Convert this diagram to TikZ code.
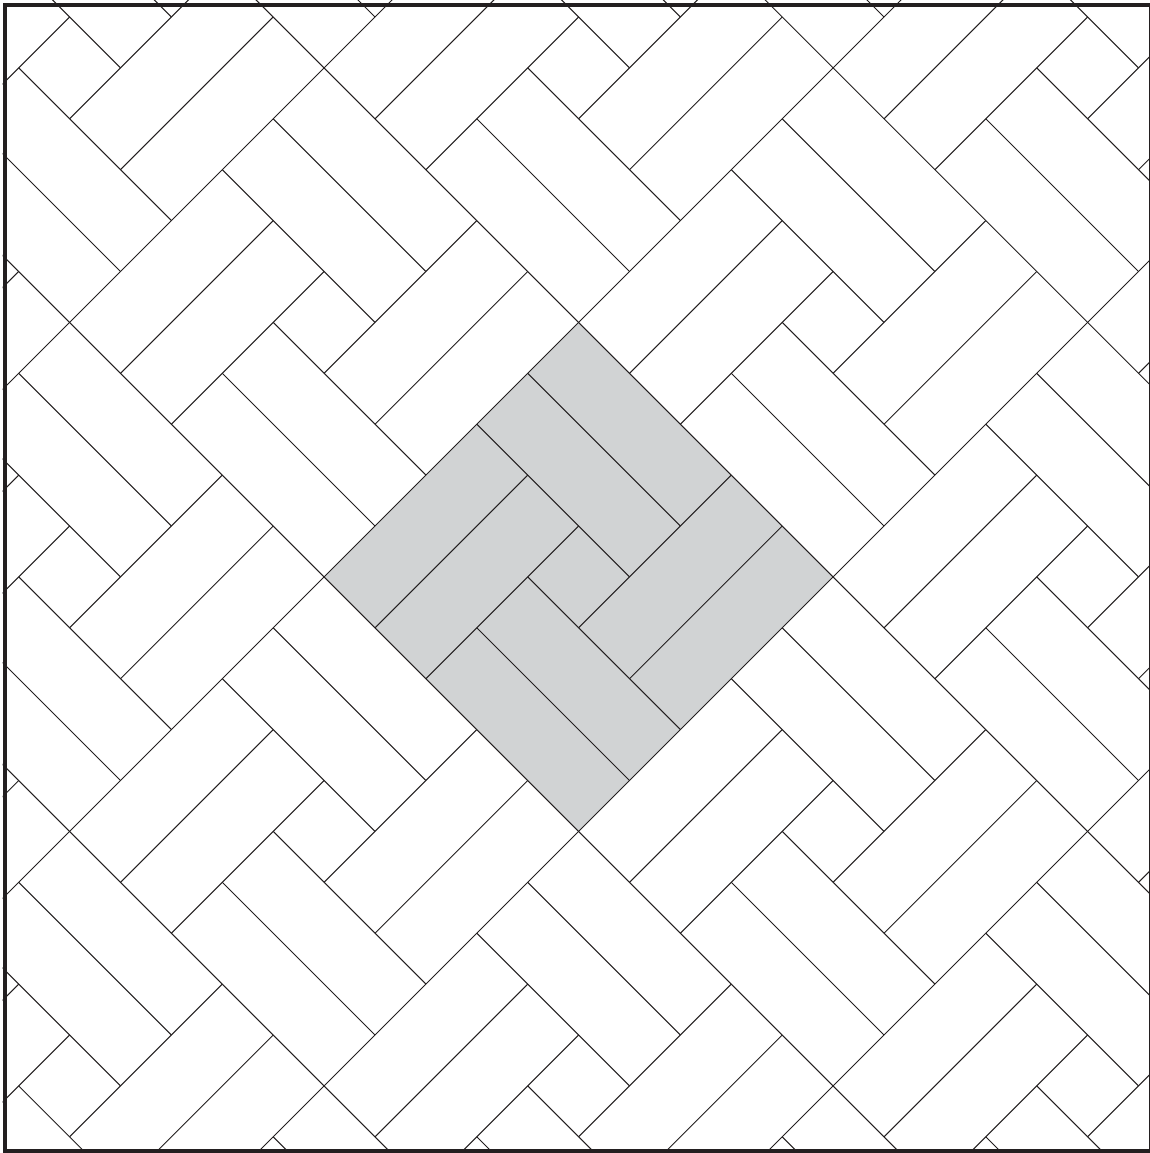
\documentclass[tikz,border=0pt]{standalone}
\definecolor{ink}{HTML}{231F20}
\definecolor{tilegrey}{HTML}{D1D3D4}
\begin{document}
\begin{tikzpicture}[x=1pt,y=-1pt,
  tileline/.style={draw=ink,line width=1pt},
  framestyle/.style={draw=ink,line width=4.2pt}]
\useasboundingbox (0,0) rectangle (1149,1153);
\fill[white] (0,0) rectangle (1149,1153);
\begin{scope}
  \clip (2.6,0) rectangle (1149,1153);
  \begin{scope}[shift={(324.1pt,-576.9pt)}, x={(50.9pt,-50.9pt)}, y={(50.9pt,50.9pt)}]
    % highlighted pinwheel block
    \fill[tilegrey] (0,0) -- (5,0) -- (5,5) -- (0,5) -- cycle;
    % block grid lines
    \foreach \g in {-10,-5,...,15} {
      \draw[tileline] (\g,-10) -- (\g,15);
      \draw[tileline] (-10,\g) -- (15,\g);
    }
    % pinwheel interior of every block
    \foreach \i in {-10,-5,...,10} {
      \foreach \j in {-10,-5,...,10} {
        \draw[tileline] (\i+1,\j) -- (\i+1,\j+3);
        \draw[tileline] (\i+2,\j) -- (\i+2,\j+3);
        \draw[tileline] (\i+3,\j+2) -- (\i+3,\j+5);
        \draw[tileline] (\i+4,\j+2) -- (\i+4,\j+5);
        \draw[tileline] (\i,\j+3) -- (\i+3,\j+3);
        \draw[tileline] (\i,\j+4) -- (\i+3,\j+4);
        \draw[tileline] (\i+2,\j+2) -- (\i+5,\j+2);
        \draw[tileline] (\i+2,\j+1) -- (\i+5,\j+1);
      }
    }
  \end{scope}
\end{scope}
\draw[framestyle] (4.7,4.7) rectangle (1150.6,1150.6);
\end{tikzpicture}
\end{document}
